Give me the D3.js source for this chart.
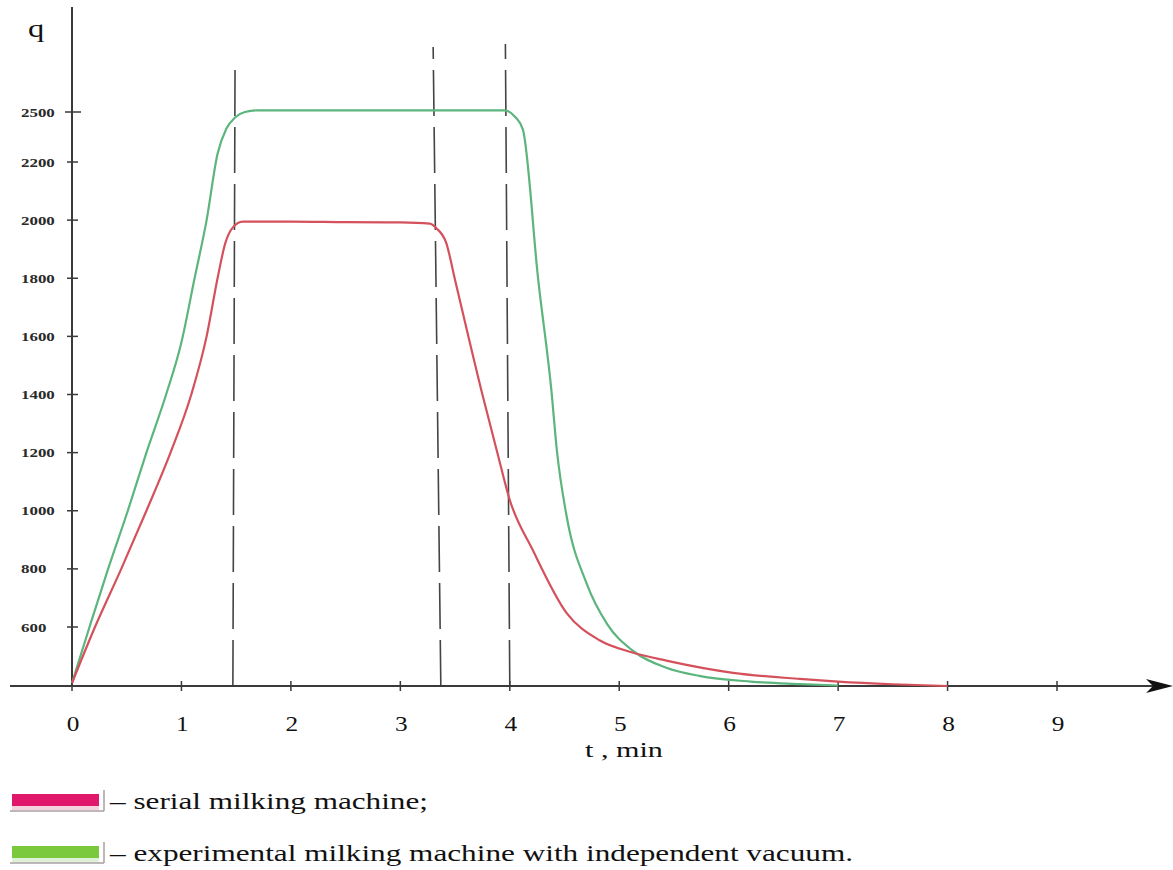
<!DOCTYPE html>
<html>
<head>
<meta charset="utf-8">
<script src="https://cdnjs.cloudflare.com/ajax/libs/d3/7.8.5/d3.min.js"></script>
<style>
  body { margin: 0; background: #fff; }
  svg { display: block; }
</style>
</head>
<body>
<script>
// Width and height
var w = 1173;
var h = 870;

// time, min
var xTicks = [0, 1, 2, 3, 4, 5, 6, 7, 8, 9];
// q axis ticks (the axis is not linear in the original)
var yTicks = [600, 800, 1000, 1200, 1400, 1600, 1800, 2000, 2200, 2500];

// serial milking machine
var serialT = [0, 0.21, 0.45, 0.68, 0.90, 1.09, 1.23, 1.33, 1.40, 1.47, 1.56, 2.0, 2.5, 3.0, 3.27, 3.33, 3.42, 3.5, 3.74, 3.88, 4.0, 4.21, 4.52, 4.82, 5.12, 5.43, 6.04, 6.65, 7.0, 7.5, 8.0];
var serialQ = [30, 600, 800, 1000, 1200, 1400, 1600, 1800, 1920, 1975, 1995, 1995, 1993, 1992, 1988, 1972, 1921, 1794, 1415, 1209, 1037, 865, 648, 465, 341, 258, 134, 72, 45, 18, 0];

// experimental milking machine with independent vacuum
var expT = [0, 0.16, 0.33, 0.51, 0.68, 0.86, 1.0, 1.12, 1.23, 1.33, 1.41, 1.49, 1.58, 1.7, 2.5, 3.5, 3.95, 4.05, 4.12, 4.26, 4.38, 4.43, 4.52, 4.70, 4.89, 5.12, 5.43, 5.73, 6.2, 6.65, 7.0];
var expQ = [30, 600, 800, 1000, 1200, 1400, 1580, 1800, 2000, 2250, 2400, 2467, 2500, 2510, 2510, 2510, 2510, 2470, 2394, 1794, 1415, 1209, 980, 752, 610, 362, 186, 103, 45, 20, 5];

// dashed phase markers (t at axis, t at top)
var markT = [1.47, 3.37, 4.0];
var markTopT = [1.49, 3.30, 3.96];

var legendLabels = ["– serial milking machine;", "– experimental milking machine with independent vacuum."];

var xScale = d3.scaleLinear().domain([0, 9]).range([72, 1057]);
// piecewise: 0..600 is squeezed, 2200..2500 too
var yScale = d3.scaleLinear().domain([0, 600, 2200, 2500]).range([686, 627, 162, 112]);

var svg = d3.select("body").append("svg")
  .attr("width", w)
  .attr("height", h);

var serif = "'Liberation Serif', 'Times New Roman', serif";
var axisCol = "#3a3a3a";

// stretch text horizontally (the scan is wider than tall)
function stretch(sel, k, anchor) {
  sel.each(function() {
    var t = d3.select(this);
    var nw = this.getComputedTextLength() * k;
    var x0 = +t.attr("x");
    if (anchor == "middle") x0 = x0 - nw / 2;
    if (anchor == "end") x0 = x0 - nw;
    t.attr("x", x0).attr("textLength", nw).attr("lengthAdjust", "spacingAndGlyphs");
  });
}

// dashed markers
svg.selectAll("line.mark")
  .data(markT)
  .enter()
  .append("line")
  .attr("class", "mark")
  .attr("x1", function(d) { return xScale(d); })
  .attr("y1", yScale(0))
  .attr("x2", function(d, i) { return xScale(markTopT[i]); })
  .attr("y2", function(d, i) { return [60, 47, 44][i]; })
  .attr("stroke", "#444")
  .attr("stroke-width", 1.6)
  .attr("stroke-dasharray", "46,11");

// axes
svg.append("line")
  .attr("x1", 72).attr("y1", 7)
  .attr("x2", 72).attr("y2", yScale(0))
  .attr("stroke", axisCol).attr("stroke-width", 2);

svg.append("line")
  .attr("x1", 10).attr("y1", yScale(0))
  .attr("x2", 1160).attr("y2", yScale(0))
  .attr("stroke", axisCol).attr("stroke-width", 2);

svg.append("path")
  .attr("d", "M1173," + yScale(0) + " L1146," + (yScale(0) - 7) + " L1153," + yScale(0) + " L1146," + (yScale(0) + 7) + " Z")
  .attr("fill", "#111");

// y ticks
svg.selectAll("line.yt")
  .data(yTicks)
  .enter()
  .append("line")
  .attr("class", "yt")
  .attr("x1", function(d) { return d == 2500 ? 65 : 67; })
  .attr("x2", function(d) { return d == 2500 ? 81 : 78; })
  .attr("y1", function(d) { return yScale(d); })
  .attr("y2", function(d) { return yScale(d); })
  .attr("stroke", axisCol).attr("stroke-width", 1.5);

svg.selectAll("text.yl")
  .data(yTicks)
  .enter()
  .append("text")
  .attr("class", "yl")
  .text(function(d) { return d; })
  .attr("x", 21)
  .attr("y", function(d) { return yScale(d) + 4.5; })
  .attr("font-family", serif)
  .attr("font-weight", "bold")
  .attr("font-size", "13px")
  .attr("fill", "#2a2a2a")
  .call(stretch, 1.3, "start");

// x ticks
svg.selectAll("line.xt")
  .data(xTicks)
  .enter()
  .append("line")
  .attr("class", "xt")
  .attr("x1", function(d) { return xScale(d); })
  .attr("x2", function(d) { return xScale(d); })
  .attr("y1", yScale(0) - 5)
  .attr("y2", yScale(0) + 5)
  .attr("stroke", axisCol).attr("stroke-width", 1.5);

svg.selectAll("text.xl")
  .data(xTicks)
  .enter()
  .append("text")
  .attr("class", "xl")
  .text(function(d) { return d; })
  .attr("x", function(d) { return xScale(d) + 1; })
  .attr("y", 731)
  .attr("font-family", serif)
  .attr("font-size", "22px")
  .attr("fill", "#111")
  .call(stretch, 1.15, "middle");

svg.append("text")
  .text("t , min")
  .attr("x", 585)
  .attr("y", 757)
  .attr("font-family", serif)
  .attr("font-size", "22px")
  .attr("fill", "#111")
  .call(stretch, 1.37, "start");

svg.append("text")
  .text("q")
  .attr("x", 28)
  .attr("y", 37)
  .attr("font-family", serif)
  .attr("font-size", "26px")
  .attr("fill", "#111")
  .call(stretch, 1.25, "start");

// curves
var line = d3.line()
  .x(function(d) { return xScale(d[0]); })
  .y(function(d) { return yScale(d[1]); })
  .curve(d3.curveMonotoneX);

svg.append("path")
  .datum(d3.zip(expT, expQ))
  .attr("d", line)
  .attr("fill", "none")
  .attr("stroke", "#5bb57c")
  .attr("stroke-width", 2.2);

svg.append("path")
  .datum(d3.zip(serialT, serialQ))
  .attr("d", line)
  .attr("fill", "none")
  .attr("stroke", "#d4515c")
  .attr("stroke-width", 2.2);

// legend
var swatch = ["#e0176b", "#7ac93c"];
var swatchLight = ["#f4d3dd", "#def0d6"];
var legendWidth = [318, 743];

var lg = svg.selectAll("g.lg")
  .data(legendLabels)
  .enter()
  .append("g")
  .attr("class", "lg")
  .attr("transform", function(d, i) { return "translate(0," + (i * 52) + ")"; });

lg.append("rect")
  .attr("x", 12).attr("y", 794).attr("width", 87).attr("height", 12)
  .attr("fill", function(d, i) { return swatch[i]; });
lg.append("rect")
  .attr("x", 12).attr("y", 806).attr("width", 87).attr("height", 4)
  .attr("fill", function(d, i) { return swatchLight[i]; });
lg.append("path")
  .attr("d", "M10,811 L104,811 M104,811 L104,790")
  .attr("fill", "none")
  .attr("stroke", "#a9a0a3")
  .attr("stroke-width", 1.5);

lg.append("text")
  .text(function(d) { return d; })
  .attr("x", 110)
  .attr("y", 809)
  .attr("font-family", serif)
  .attr("font-size", "23px")
  .attr("fill", "#111")
  .each(function(d, i) {
    d3.select(this).attr("textLength", legendWidth[i]).attr("lengthAdjust", "spacingAndGlyphs");
  });
</script>
</body>
</html>
